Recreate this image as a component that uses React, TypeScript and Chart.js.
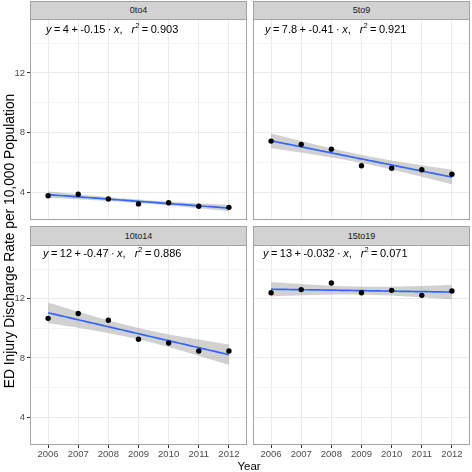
import React, { useEffect, useRef } from "react";
import { Chart, registerables } from "chart.js";
Chart.register(...registerables);

// ---- data ----
const years = [2006, 2007, 2008, 2009, 2010, 2011, 2012];
const panelNames = ["0to4", "5to9", "10to14", "15to19"];
const rate0to4 = [3.75, 3.85, 3.53, 3.2, 3.28, 3.04, 2.97];
const rate5to9 = [7.42, 7.2, 6.88, 5.76, 5.6, 5.5, 5.19];
const rate10to14 = [10.67, 11.0, 10.54, 9.26, 9.01, 8.47, 8.47];
const rate15to19 = [12.4, 12.61, 13.06, 12.4, 12.56, 12.22, 12.52];
const eqIntercepts = ["4", "7.8", "12", "13"];
const eqSlopes = ["-0.15", "-0.41", "-0.47", "-0.032"];
const eqR2 = ["0.903", "0.921", "0.886", "0.071"];
const yMajorTicks = [4, 8, 12];
const yMinorTicks = [6, 10, 14];

const Y_MIN = 2.12;
const Y_MAX = 15.62;
const X_MIN = 2005.4;
const X_MAX = 2012.6;
const T_975_DF5 = 2.5706;
const FONT = "'Liberation Sans', Arial, Helvetica, sans-serif";

// ordinary least squares fit with 95% confidence band (like geom_smooth(method = "lm"))
function fitLm(xs: number[], ys: number[]) {
  const n = xs.length;
  const mx = xs.reduce((a, b) => a + b, 0) / n;
  const my = ys.reduce((a, b) => a + b, 0) / n;
  let sxx = 0;
  let sxy = 0;
  xs.forEach((x, i) => {
    sxx += (x - mx) * (x - mx);
    sxy += (x - mx) * (ys[i] - my);
  });
  const b = sxy / sxx;
  const a = my - b * mx;
  let sse = 0;
  xs.forEach((x, i) => {
    const r = ys[i] - (a + b * x);
    sse += r * r;
  });
  const s = Math.sqrt(sse / (n - 2));
  const line: { x: number; y: number }[] = [];
  const lo: { x: number; y: number }[] = [];
  const hi: { x: number; y: number }[] = [];
  const x0 = xs[0];
  const x1 = xs[n - 1];
  const steps = 60;
  for (let k = 0; k <= steps; k++) {
    const x = x0 + ((x1 - x0) * k) / steps;
    const yh = a + b * x;
    const se = s * Math.sqrt(1 / n + ((x - mx) * (x - mx)) / sxx);
    line.push({ x, y: yh });
    lo.push({ x, y: yh - T_975_DF5 * se });
    hi.push({ x, y: yh + T_975_DF5 * se });
  }
  return { line, lo, hi };
}

const panelBorder = {
  id: "panelBorder",
  afterDraw(chart: any) {
    const { ctx, chartArea } = chart;
    ctx.save();
    ctx.strokeStyle = "#a3a3a3";
    ctx.lineWidth = 1;
    ctx.strokeRect(
      chartArea.left + 0.5,
      chartArea.top + 0.5,
      chartArea.right - chartArea.left - 1,
      chartArea.bottom - chartArea.top - 1
    );
    ctx.restore();
  },
};

const zeroPadding = (s: any) => {
  s.paddingTop = 0;
  s.paddingBottom = 0;
  s.paddingLeft = 0;
  s.paddingRight = 0;
};

type PanelProps = {
  values: number[];
  left: number;
  top: number;
  width: number;
  height: number;
  showY: boolean;
  showX: boolean;
};

function Panel({ values, left, top, width, height, showY, showX }: PanelProps) {
  const ref = useRef<HTMLCanvasElement>(null);
  useEffect(() => {
    if (!ref.current) return;
    const fit = fitLm(years, values);
    const isMajor = (v: number) => yMajorTicks.includes(v);
    const chart = new Chart(ref.current, {
      type: "scatter",
      data: {
        datasets: [
          {
            data: fit.lo,
            showLine: true,
            borderWidth: 0,
            borderColor: "rgba(0,0,0,0)",
            pointRadius: 0,
            fill: false,
            order: 3,
          } as any,
          {
            data: fit.hi,
            showLine: true,
            borderWidth: 0,
            borderColor: "rgba(0,0,0,0)",
            backgroundColor: "rgba(153,153,153,0.45)",
            pointRadius: 0,
            fill: "-1",
            order: 2,
          } as any,
          {
            data: fit.line,
            showLine: true,
            borderWidth: 1.7,
            borderColor: "#3366FF",
            pointRadius: 0,
            fill: false,
            order: 1,
          } as any,
          {
            data: years.map((x, i) => ({ x, y: values[i] })),
            showLine: false,
            pointRadius: 2.7,
            pointBackgroundColor: "#000000",
            pointBorderColor: "#000000",
            pointBorderWidth: 0,
            order: 0,
          } as any,
        ],
      },
      options: {
        animation: false,
        responsive: false,
        devicePixelRatio: 1,
        layout: { padding: 0, autoPadding: false },
        plugins: {
          legend: { display: false },
          tooltip: { enabled: false },
          title: { display: false },
        },
        scales: {
          x: {
            type: "linear",
            min: X_MIN,
            max: X_MAX,
            afterBuildTicks: (s: any) => {
              s.ticks = years.map((v) => ({ value: v }));
            },
            afterFit: (s: any) => {
              s.height = showX ? 16 : 0;
              zeroPadding(s);
            },
            border: { display: false },
            grid: {
              color: "#ebebeb",
              lineWidth: 1,
              drawTicks: showX,
              tickLength: 3,
              tickColor: "#333333",
            },
            ticks: {
              display: showX,
              color: "#4d4d4d",
              font: { family: FONT, size: 9.5 },
              padding: 1,
              maxRotation: 0,
              autoSkip: false,
              callback: (v: any) => String(v),
            },
          },
          y: {
            type: "linear",
            min: Y_MIN,
            max: Y_MAX,
            afterBuildTicks: (s: any) => {
              s.ticks = [...yMajorTicks, ...yMinorTicks]
                .sort((a, b) => a - b)
                .map((v) => ({ value: v }));
            },
            afterFit: (s: any) => {
              s.width = showY ? 30 : 0;
              zeroPadding(s);
            },
            border: { display: false },
            grid: {
              color: (c: any) => (isMajor(c.tick?.value) ? "#ebebeb" : "#f4f4f4"),
              lineWidth: 1,
              drawTicks: showY,
              tickLength: 3,
              tickColor: (c: any) => (isMajor(c.tick?.value) ? "#333333" : "rgba(0,0,0,0)"),
            },
            ticks: {
              display: showY,
              color: "#4d4d4d",
              font: { family: FONT, size: 9.5 },
              padding: 2,
              autoSkip: false,
              callback: (v: any) => (isMajor(Number(v)) ? String(v) : ""),
            },
          },
        },
      } as any,
      plugins: [panelBorder],
    });
    return () => chart.destroy();
  }, [values, showX, showY]);
  return (
    <canvas
      ref={ref}
      width={width}
      height={height}
      style={{ position: "absolute", left, top, width, height }}
    />
  );
}

const stripStyle = (left: number, top: number, width: number, height: number): React.CSSProperties => ({
  position: "absolute",
  left,
  top,
  width,
  height,
  boxSizing: "border-box",
  background: "#d2d2d2",
  border: "1px solid #a3a3a3",
  color: "#1a1a1a",
  font: `9px ${FONT}`,
  lineHeight: `${height - 2}px`,
  textAlign: "center",
});

function Equation({ i, left, top }: { i: number; left: number; top: number }) {
  return (
    <div
      style={{
        position: "absolute",
        left,
        top,
        font: `11px ${FONT}`,
        color: "#000",
        whiteSpace: "nowrap",
        lineHeight: "14px",
        wordSpacing: "-0.6px",
      }}
    >
      <i>y</i> = {eqIntercepts[i]} + {eqSlopes[i]} · <i>x</i>,
      <i style={{ marginLeft: "9px" }}>r</i>
      <sup style={{ fontSize: "7.5px", verticalAlign: "5px", lineHeight: 0 }}>2</sup> = {eqR2[i]}
    </div>
  );
}

export default function App() {
  const series = [rate0to4, rate5to9, rate10to14, rate15to19];
  return (
    <div
      style={{
        position: "absolute",
        left: 0,
        top: 0,
        width: 472,
        height: 472,
        background: "#ffffff",
        overflow: "hidden",
      }}
    >
      <Panel values={series[0]} left={0} top={19} width={247} height={201} showY showX={false} />
      <Panel values={series[1]} left={253} top={19} width={217} height={201} showY={false} showX={false} />
      <Panel values={series[2]} left={0} top={245} width={247} height={216} showY showX />
      <Panel values={series[3]} left={253} top={245} width={217} height={216} showY={false} showX />

      <div style={stripStyle(30, 1, 217, 19)}>{panelNames[0]}</div>
      <div style={stripStyle(253, 1, 217, 19)}>{panelNames[1]}</div>
      <div style={stripStyle(30, 226, 217, 20)}>{panelNames[2]}</div>
      <div style={stripStyle(253, 226, 217, 20)}>{panelNames[3]}</div>

      <Equation i={0} left={46} top={22} />
      <Equation i={1} left={265} top={22} />
      <Equation i={2} left={43} top={246} />
      <Equation i={3} left={263} top={246} />

      <div
        style={{
          position: "absolute",
          left: 10 - 200,
          top: 241 - 9,
          width: 400,
          height: 18,
          transform: "rotate(-90deg)",
          transformOrigin: "200px 9px",
          textAlign: "center",
          font: `13.8px ${FONT}`,
          lineHeight: "18px",
          color: "#000",
          whiteSpace: "nowrap",
        }}
      >
        ED Injury Discharge Rate per 10,000 Population
      </div>
      <div
        style={{
          position: "absolute",
          left: 249 - 50,
          top: 466 - 8,
          width: 100,
          height: 16,
          textAlign: "center",
          font: `11.5px ${FONT}`,
          lineHeight: "16px",
          color: "#000",
        }}
      >
        Year
      </div>
    </div>
  );
}
